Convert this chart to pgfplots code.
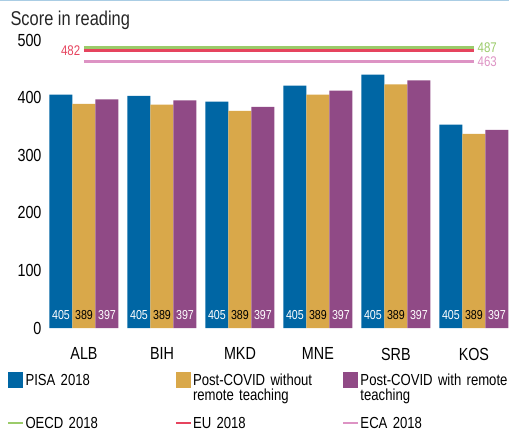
\documentclass[border=0pt]{standalone}
\usepackage{fontspec}
\setmainfont{Liberation Sans}[FakeStretch=0.82]
\usepackage{pgfplots}
\pgfplotsset{compat=1.18}

\definecolor{pisa}{RGB}{0,102,164}
\definecolor{nort}{RGB}{217,168,74}
\definecolor{wrt}{RGB}{144,74,134}
\definecolor{oecd}{RGB}{155,203,106}
\definecolor{eu}{RGB}{230,68,94}
\definecolor{eca}{RGB}{221,147,196}
\definecolor{topline}{RGB}{170,205,228}

\begin{document}
\begin{tikzpicture}
\path[use as bounding box] (-45pt,-103pt) rectangle (464pt,328pt);
\fill[topline] (-45pt,326.5pt) rectangle (464pt,328pt);
\begin{axis}[
    at={(0,0)}, anchor=south west,
    scale only axis,
    width=464pt, height=288pt,
    xmin=-0.5, xmax=5.45,
    ymin=0, ymax=500,
    clip=false,
    axis lines*=left,
    axis line style={draw=none},
    tick style={draw=none},
    xtick={0,1,2,3,4,5},
    xticklabels={ALB,BIH,MKD,MNE,SRB,KOS},
    ytick={0,100,200,300,400,500},
    ticklabel style={font=\fontsize{17.5}{20}\selectfont},
    xticklabel style={yshift=-12pt},
    /pgf/number format/assume math mode=true,
    ybar=0pt, bar width=23pt,
    visualization depends on=y \as \rawy,
    every node near coord/.append style={
        shift={(axis direction cs:0,-\rawy)},
        anchor=center, yshift=13pt,
        font=\fontsize{13}{13}\selectfont},
    legend columns=3,
    legend cell align=left,
    legend style={
        at={(axis description cs:-0.0819,-0.1528)}, anchor=north west,
        draw=none, fill=none, inner sep=0pt, outer sep=0pt,
        font=\fontsize{16}{15.5}\selectfont,
        nodes={inner sep=0pt, anchor=base west},
        row sep=12pt,
        /tikz/every odd column/.append style={column sep=1pt},
        /tikz/every even column/.append style={column sep=3pt},
    },
]
\addplot[fill=pisa, draw=none, nodes near coords={405},
    nodes near coords style={text=white},
    legend image code/.code={\fill[pisa] (0pt,-3pt) rectangle (15pt,13pt);}]
    coordinates {(0,405) (1,403) (2,393) (3,421) (4,440) (5,353)};
\addlegendentry[text width=146pt, text depth=20pt]{PISA 2018}
\addplot[fill=nort, draw=none, nodes near coords={389},
    nodes near coords style={text=black},
    legend image code/.code={\fill[nort] (0pt,-3pt) rectangle (15pt,13pt);}]
    coordinates {(0,389) (1,388) (2,377) (3,405) (4,423) (5,337)};
\addlegendentry[text width=146pt, text depth=20pt, align=left]{Post-COVID without\\remote teaching}
\addplot[fill=wrt, draw=none, nodes near coords={397},
    nodes near coords style={text=white},
    legend image code/.code={\fill[wrt] (0pt,-3pt) rectangle (15pt,13pt);}]
    coordinates {(0,397) (1,395) (2,384) (3,412) (4,430) (5,344)};
\addlegendentry[text width=170pt, text depth=20pt, align=left]{Post-COVID with remote\\teaching}

\addplot[sharp plot, oecd, line width=3.5pt,
    legend image code/.code={\draw[oecd, line width=2.5pt] (0pt,5pt) -- (15pt,5pt);}]
    coordinates {(0,487) (5,487)}
    node[pos=1, anchor=west, inner sep=2pt, text=oecd, font=\fontsize{14}{14}\selectfont] {487};
\addlegendentry[text width=146pt]{OECD 2018}
\addplot[sharp plot, eu, line width=3.5pt,
    legend image code/.code={\draw[eu, line width=2.5pt] (0pt,5pt) -- (15pt,5pt);}]
    coordinates {(0,482) (5,482)}
    node[pos=0, anchor=east, inner sep=2pt, text=eu, font=\fontsize{14}{14}\selectfont] {482};
\addlegendentry[text width=146pt]{EU 2018}
\addplot[sharp plot, eca, line width=3.5pt,
    legend image code/.code={\draw[eca, line width=2.5pt] (0pt,5pt) -- (15pt,5pt);}]
    coordinates {(0,463) (5,463)}
    node[pos=1, anchor=west, inner sep=2pt, text=eca, font=\fontsize{14}{14}\selectfont] {463};
\addlegendentry[text width=170pt]{ECA 2018}
\end{axis}
\node[anchor=base west, font=\fontsize{20}{20}\selectfont, text=black!85] at (-38pt,302pt) {Score in reading};
\end{tikzpicture}
\end{document}
